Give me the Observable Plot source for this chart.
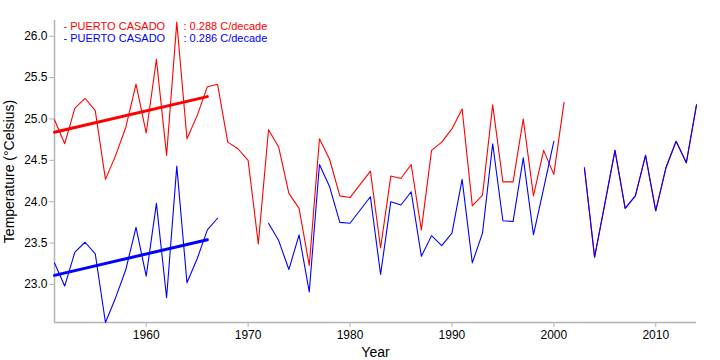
<!DOCTYPE html>
<html>
<head>
<meta charset="utf-8">
<script src="https://cdn.jsdelivr.net/npm/d3@7"></script>
<script src="https://cdn.jsdelivr.net/npm/@observablehq/plot@0.6"></script>
<style>
  html, body { margin: 0; padding: 0; background: #fff; }
  svg { font-family: "Liberation Sans", Arial, sans-serif; }
  g[aria-label="y-axis label"] text, g[aria-label="x-axis label"] text { font-size: 14px; }
</style>
</head>
<body>
<div id="chart"></div>
<script>
const years = [1951,1952,1953,1954,1955,1956,1957,1958,1959,1960,
  1961,1962,1963,1964,1965,1966,1967,1968,1969,1970,
  1971,1972,1973,1974,1975,1976,1977,1978,1979,1980,
  1981,1982,1983,1984,1985,1986,1987,1988,1989,1990,
  1991,1992,1993,1994,1995,1996,1997,1998,1999,2000,
  2001,2002,2003,2004,2005,2006,2007,2008,2009,2010,
  2011,2012,2013,2014];

const redValues = [24.99,24.70,25.13,25.25,25.10,24.27,24.56,24.90,25.42,24.83,
  25.72,24.56,26.17,24.76,25.04,25.39,25.42,24.72,24.64,24.50,
  23.49,24.87,24.66,24.10,23.92,23.23,24.76,24.51,24.07,24.05,
  24.21,24.37,23.44,24.31,24.28,24.45,23.66,24.62,24.72,24.88,
  25.12,23.95,24.08,25.17,24.24,24.24,25.00,24.07,24.62,24.33,
  25.20,null,24.41,23.33,23.97,24.62,23.92,24.07,24.56,23.89,
  24.41,24.73,24.47,25.17];

const blueValues = [23.26,22.98,23.39,23.51,23.37,22.54,22.84,23.18,23.69,23.10,
  23.98,22.84,24.43,23.02,23.31,23.66,23.80,null,null,null,
  null,23.74,23.53,23.18,23.60,22.91,24.45,24.18,23.75,23.74,
  23.90,24.06,23.12,24.00,23.96,24.12,23.34,23.59,23.47,23.62,
  24.27,23.26,23.62,24.70,23.77,23.76,24.53,23.60,24.16,24.73,
  null,null,24.41,23.33,23.97,24.62,23.92,24.07,24.56,23.89,
  24.41,24.73,24.47,25.17];

const trendYears = [1951, 1966];
const redTrend = [24.84, 25.27];
const blueTrend = [23.11, 23.54];

const seriesNames = ["- PUERTO CASADO", "- PUERTO CASADO"];
const seriesRates = [": 0.288 C/decade", ": 0.286 C/decade"];
const seriesColors = ["#ff0000", "#0000ff"];

const yTicks = [23.0, 23.5, 24.0, 24.5, 25.0, 25.5, 26.0];
const xTicks = [1960, 1970, 1980, 1990, 2000, 2010];

const redData = years.map((y, i) => ({year: y, value: redValues[i]}));
const blueData = years.map((y, i) => ({year: y, value: blueValues[i]}));
const redTrendData = trendYears.map((y, i) => ({year: y, value: redTrend[i]}));
const blueTrendData = trendYears.map((y, i) => ({year: y, value: blueTrend[i]}));

const yMin = 22.54, yMax = 26.19;
const axisGray = "#b4b4b4";

const legendMarks = seriesNames.flatMap((name, i) => [
  Plot.text([name], {frameAnchor: "top-left", text: d => d, dx: 9, dy: 2 + 12 * i,
    lineAnchor: "top", textAnchor: "start", fontSize: 11, fill: seriesColors[i]}),
  Plot.text([seriesRates[i]], {frameAnchor: "top-left", text: d => d, dx: 129, dy: 2 + 12 * i,
    lineAnchor: "top", textAnchor: "start", fontSize: 11, fill: seriesColors[i]})
]);

const chart = Plot.plot({
  width: 720,
  height: 360,
  marginLeft: 54,
  marginRight: 24,
  marginTop: 20,
  marginBottom: 38,
  style: {fontFamily: "Liberation Sans, Arial, sans-serif", fontSize: "12px", color: "#000", background: "#fff"},
  x: {domain: [1951, 2014]},
  y: {domain: [yMin, yMax]},
  marks: [
    Plot.ruleX([1951], {stroke: axisGray, strokeWidth: 1.5}),
    Plot.ruleY([yMin], {stroke: axisGray, strokeWidth: 1.5}),
    Plot.axisY({ticks: yTicks, tickFormat: d3.format(".1f"), tickSize: 5, tickPadding: 2,
      stroke: axisGray, fill: "#000", label: "Temperature (°Celsius)", labelAnchor: "center",
      labelArrow: "none", labelOffset: 50}),
    Plot.axisX({ticks: xTicks, tickFormat: d => String(d), tickSize: 5, tickPadding: 3,
      stroke: axisGray, fill: "#000", label: "Year", labelAnchor: "center",
      labelArrow: "none", labelOffset: 34}),
    Plot.line(redData, {x: "year", y: "value", stroke: seriesColors[0], strokeWidth: 1.1}),
    Plot.line(blueData, {x: "year", y: "value", stroke: seriesColors[1], strokeWidth: 1.1}),
    Plot.line(redTrendData, {x: "year", y: "value", stroke: seriesColors[0], strokeWidth: 3}),
    Plot.line(blueTrendData, {x: "year", y: "value", stroke: seriesColors[1], strokeWidth: 3}),
    ...legendMarks
  ]
});

document.getElementById("chart").appendChild(chart);
</script>
</body>
</html>
